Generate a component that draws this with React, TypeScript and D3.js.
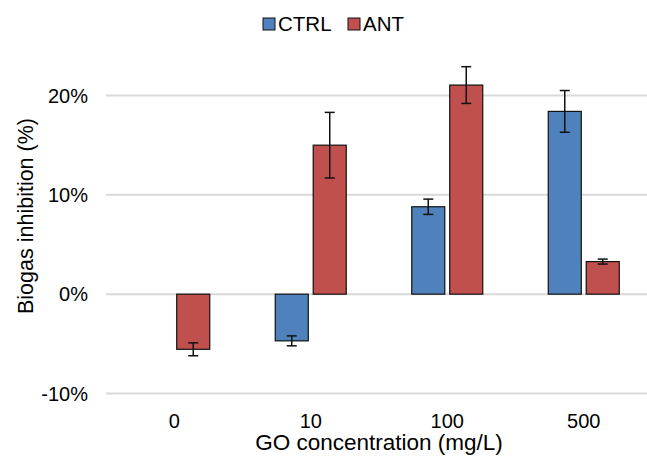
import React from 'react';
import * as d3 from 'd3';

const categories = ['0', '10', '100', '500'];
const seriesNames = ['CTRL', 'ANT'];
const ctrlValues = [null, -4.7, 8.8, 18.4];
const ctrlErrors = [null, 0.5, 0.77, 2.1];
const antValues = [-5.55, 15.0, 21.05, 3.28];
const antErrors = [0.65, 3.3, 1.85, 0.25];
const yTicks = [-10, 0, 10, 20];
const colors = ['#4F81BD', '#C0504D'];

const FONT = '"Liberation Sans", Arial, Helvetica, sans-serif';

const App = () => {
  const ref = React.useRef<SVGSVGElement>(null);

  React.useEffect(() => {
    const svg = d3.select(ref.current);
    svg.selectAll('*').remove();

    const width = 647;
    const margin = { left: 106, right: -5 };

    const x0 = d3.scaleBand()
      .domain(categories)
      .range([margin.left, width - margin.right]);

    const x1 = d3.scaleBand()
      .domain(seriesNames)
      .range([0, 71])
      .paddingInner(0.13);

    const y = d3.scaleLinear()
      .domain([-10, 20])
      .range([393.5, 95.5]);

    // gridlines
    svg.append('g')
      .selectAll('line')
      .data(yTicks)
      .join('line')
      .attr('x1', margin.left)
      .attr('x2', width)
      .attr('y1', d => y(d))
      .attr('y2', d => y(d))
      .attr('stroke', '#d9d9d9')
      .attr('stroke-width', 2);

    // y tick labels
    svg.append('g')
      .selectAll('text')
      .data(yTicks)
      .join('text')
      .attr('x', 88)
      .attr('y', d => y(d))
      .attr('dy', '0.35em')
      .attr('text-anchor', 'end')
      .attr('font-family', FONT)
      .attr('font-size', 20)
      .attr('fill', '#000')
      .text(d => `${d}%`);

    // x tick labels
    svg.append('g')
      .selectAll('text')
      .data(categories)
      .join('text')
      .attr('x', d => x0(d)! + x0.bandwidth() / 2)
      .attr('y', 428)
      .attr('text-anchor', 'middle')
      .attr('font-family', FONT)
      .attr('font-size', 20)
      .text(d => d);

    const rows = categories.flatMap((c, i) => [
      { cat: c, series: 'CTRL', value: ctrlValues[i], err: ctrlErrors[i], color: colors[0] },
      { cat: c, series: 'ANT', value: antValues[i], err: antErrors[i], color: colors[1] },
    ]).filter(d => d.value !== null) as { cat: string; series: string; value: number; err: number; color: string }[];

    const barX = (d: { cat: string; series: string }) =>
      x0(d.cat)! + x0.bandwidth() / 2 - 35.5 + x1(d.series)!;

    svg.append('g')
      .selectAll('rect')
      .data(rows)
      .join('rect')
      .attr('x', d => barX(d))
      .attr('y', d => Math.min(y(d.value), y(0)))
      .attr('width', x1.bandwidth())
      .attr('height', d => Math.abs(y(d.value) - y(0)))
      .attr('fill', d => d.color)
      .attr('stroke', '#111')
      .attr('stroke-width', 1.2);

    // error bars
    const eb = svg.append('g')
      .attr('stroke', '#111')
      .attr('stroke-width', 1.5);
    rows.forEach(d => {
      const cx = barX(d) + x1.bandwidth() / 2;
      const top = y(d.value + d.err);
      const bot = y(d.value - d.err);
      eb.append('line').attr('x1', cx).attr('x2', cx).attr('y1', top).attr('y2', bot);
      eb.append('line').attr('x1', cx - 5).attr('x2', cx + 5).attr('y1', top).attr('y2', top);
      eb.append('line').attr('x1', cx - 5).attr('x2', cx + 5).attr('y1', bot).attr('y2', bot);
    });

    // axis titles
    svg.append('text')
      .attr('x', (margin.left + width - margin.right) / 2)
      .attr('y', 450)
      .attr('text-anchor', 'middle')
      .attr('font-family', FONT)
      .attr('font-size', 22.5)
      .text('GO concentration (mg/L)');

    svg.append('text')
      .attr('transform', 'translate(33, 216) rotate(-90)')
      .attr('text-anchor', 'middle')
      .attr('font-family', FONT)
      .attr('font-size', 21.5)
      .text('Biogas inhibition (%)');

    // legend
    const legendItems = [
      { name: seriesNames[0], color: colors[0], x: 263 },
      { name: seriesNames[1], color: colors[1], x: 348 },
    ];
    const lg = svg.append('g');
    legendItems.forEach(item => {
      lg.append('rect')
        .attr('x', item.x)
        .attr('y', 18)
        .attr('width', 12)
        .attr('height', 12)
        .attr('fill', item.color)
        .attr('stroke', '#111')
        .attr('stroke-width', 1);
      lg.append('text')
        .attr('x', item.x + 15)
        .attr('y', 31)
        .attr('font-family', FONT)
        .attr('font-size', 20.5)
        .text(item.name);
    });
  }, []);

  return (
    <svg
      ref={ref}
      width={647}
      height={459}
      style={{ position: 'absolute', left: 0, top: 0, background: '#fff' }}
    />
  );
};

export default App;
